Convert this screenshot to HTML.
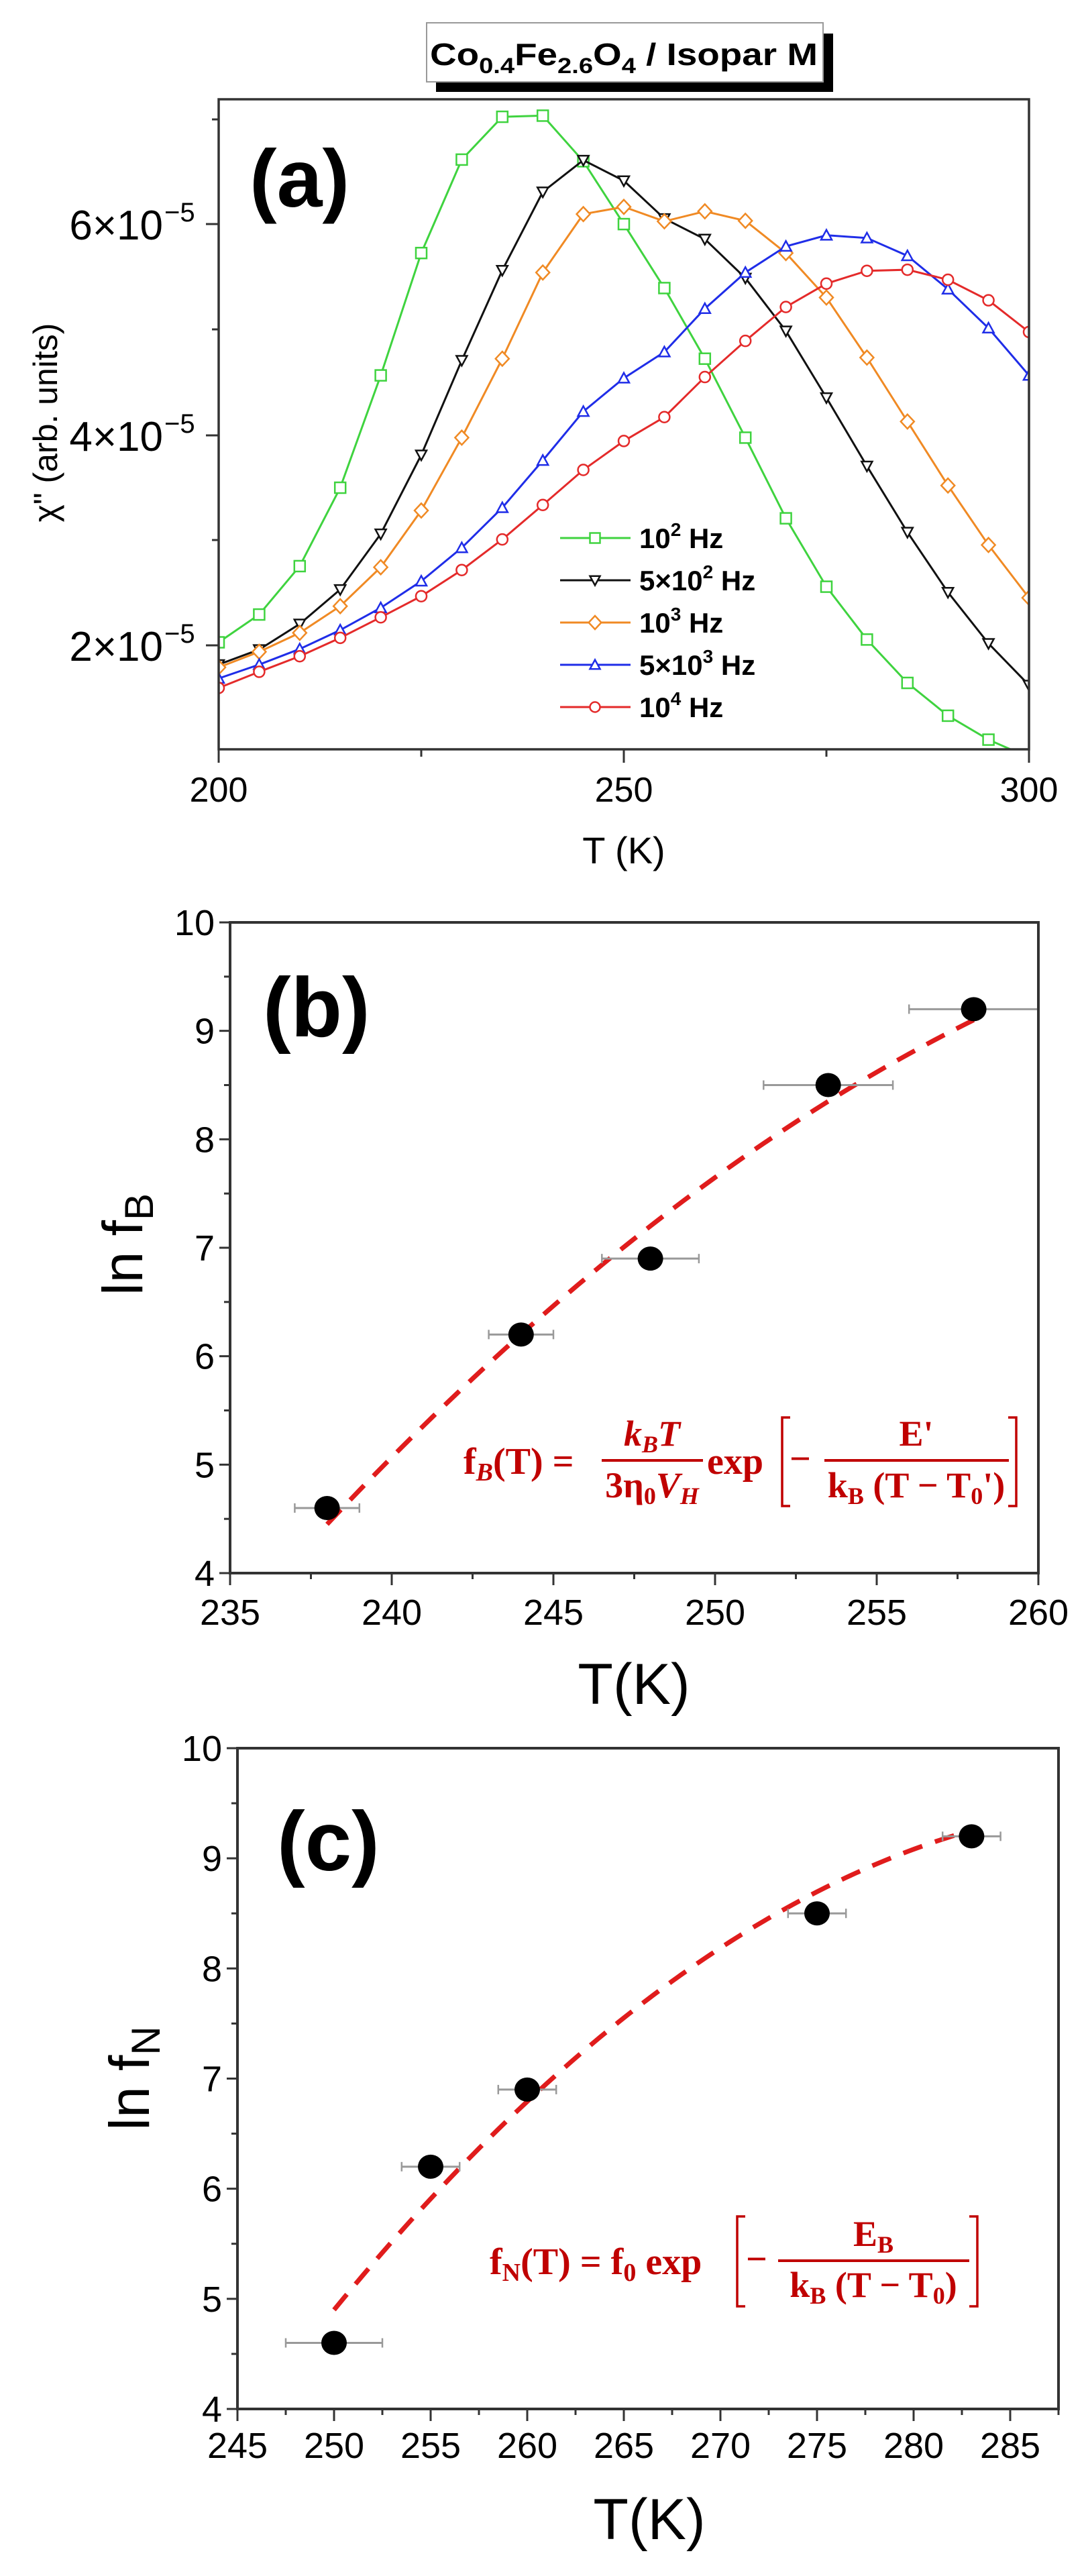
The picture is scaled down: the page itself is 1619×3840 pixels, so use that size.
<!DOCTYPE html>
<html><head><meta charset="utf-8"><style>
html,body{margin:0;padding:0;background:#fff;}
svg{display:block;}
text{font-family:"Liberation Sans",Arial,sans-serif;}
.eq text{font-family:"Liberation Serif","DejaVu Serif",serif;}
</style></head><body>
<svg id="s" width="1619" height="3840" viewBox="0 0 1619 3840" xmlns="http://www.w3.org/2000/svg">
<rect width="1619" height="3840" fill="#fff"/>
<rect x="650" y="50" width="592" height="87" fill="#000"/>
<rect x="636" y="34" width="591" height="88" fill="#fff" stroke="#999" stroke-width="2"/>
<text x="641" y="97" font-size="46" font-weight="bold" textLength="578" lengthAdjust="spacingAndGlyphs">Co<tspan font-size="32" dy="12">0.4</tspan><tspan dy="-12">Fe</tspan><tspan font-size="32" dy="12">2.6</tspan><tspan dy="-12">O</tspan><tspan font-size="32" dy="12">4</tspan><tspan dy="-12"> / Isopar M</tspan></text>
<g id="pa"></g><g id="pb"></g><g id="pc"></g>
</svg>
<script>
var NS="http://www.w3.org/2000/svg";
function el(p,t,a,txt){var e=document.createElementNS(NS,t);for(var k in a)e.setAttribute(k,a[k]);if(txt!=null)e.textContent=txt;p.appendChild(e);return e;}
var A=document.getElementById('pa');
var L=326,R=1534,T=148,B=1117;
function ax(t){return L+(t-200)/100*(R-L);}
var cp=el(A,'clipPath',{id:'ca'});el(cp,'rect',{x:L,y:T,width:R-L,height:B-T});
var series=[
 ['#3fd33f','sq',[1155,1105,1018,877,675,455,287,210,208,290,403,518,645,787,932,1055,1150,1228,1287,1330,1362]],
 ['#111','dt',[1195,1168,1122,1060,960,818,648,486,345,288,325,393,430,500,595,715,838,957,1065,1157,1232]],
 ['#f08a24','di',[1200,1172,1138,1090,1020,918,787,645,490,385,372,398,380,397,455,535,643,758,873,980,1075]],
 ['#1f2de8','ut',[1220,1195,1167,1133,1093,1045,985,913,828,740,680,633,555,490,443,423,428,460,520,590,675]],
 ['#e42a2a','ci',[1237,1208,1180,1147,1110,1072,1025,970,908,845,793,750,678,613,552,510,487,485,503,540,597]]
];
function marker(g,type,x,y,c,s){
 var a={fill:'#fff',stroke:c,'stroke-width':2.5};
 if(type=='sq'){a.x=x-s/2;a.y=y-s/2;a.width=s;a.height=s;el(g,'rect',a);}
 else if(type=='ci'){a.cx=x;a.cy=y;a.r=s/2;el(g,'circle',a);}
 else{var p;if(type=='dt')p=[[x-s/2,y-s/2.4],[x+s/2,y-s/2.4],[x,y+s/2]];
 else if(type=='ut')p=[[x-s/2,y+s/2.4],[x+s/2,y+s/2.4],[x,y-s/2]];
 else p=[[x,y-s/1.5],[x+s/1.6,y],[x,y+s/1.5],[x-s/1.6,y]];
 a.points=p.map(function(q){return q.join(',')}).join(' ');el(g,'polygon',a);}
}
var g=el(A,'g',{'clip-path':'url(#ca)'});
series.forEach(function(s){
 var pts=s[2].map(function(v,i){return [ax(200+5*i),v*0.829];});
 el(g,'polyline',{points:pts.map(function(q){return q.join(',')}).join(' '),fill:'none',stroke:s[0],'stroke-width':3});
 pts.forEach(function(q){marker(g,s[1],q[0],q[1],s[0],16);});
});
el(A,'rect',{x:L,y:T,width:R-L,height:B-T,fill:'none',stroke:'#333','stroke-width':3.5});
[200,250,300].forEach(function(t){el(A,'line',{x1:ax(t),x2:ax(t),y1:B,y2:B+20,stroke:'#333','stroke-width':3});
 el(A,'text',{x:ax(t),y:1195,'font-size':52,'text-anchor':'middle'},t);});
[225,275].forEach(function(t){el(A,'line',{x1:ax(t),x2:ax(t),y1:B,y2:B+11,stroke:'#333','stroke-width':3});});
var yv={6:334,4:649,2:962};
[6,4,2].forEach(function(v){var y=yv[v];el(A,'line',{x1:L-19,x2:L,y1:y,y2:y,stroke:'#333','stroke-width':3});
 el(A,'text',{x:243,y:y+23,'font-size':62,'text-anchor':'end'},v+'×10');
 el(A,'text',{x:245,y:y-4,'font-size':40},'−5');});
[178,491,805].forEach(function(y){el(A,'line',{x1:L-10,x2:L,y1:y,y2:y,stroke:'#333','stroke-width':3});});
el(A,'text',{x:0,y:0,'font-size':50,'text-anchor':'middle',transform:'translate(85,630) rotate(-90)'},'χ" (arb. units)');
el(A,'text',{x:930,y:1287,'font-size':56,'text-anchor':'middle'},'T (K)');
el(A,'text',{x:372,y:308,'font-size':122,'font-weight':'bold'},'(a)');
var labs=[['10','2',' Hz'],['5×10','2',' Hz'],['10','3',' Hz'],['5×10','3',' Hz'],['10','4',' Hz']];
labs.forEach(function(l,i){var y=802+63*i,s=series[i];
 el(A,'line',{x1:835,x2:940,y1:y,y2:y,stroke:s[0],'stroke-width':3});marker(A,s[1],887,y,s[0],15);
 var t=el(A,'text',{x:953,y:y+15,'font-size':42,'font-weight':'bold'});
 el(t,'tspan',{},l[0]);el(t,'tspan',{'font-size':28,dy:-18},l[1]);el(t,'tspan',{dy:18},l[2]);});

function panel(G,o){
 var L=o.L,R=o.R,T=o.T,B=o.B;
 function X(t){return L+(t-o.x0)/(o.x1-o.x0)*(R-L);}
 function Y(v){return B-(v-4)/6*(B-T);}
 var d=[];for(var t=o.f0;t<=o.f1+0.001;t+=0.25){var u=t-o.f0;d.push(X(t)+','+Y(o.fa+o.fb*u+o.fc*u*u));}
 el(G,'path',{d:'M'+d.join(' L'),fill:'none',stroke:'#e01c1c','stroke-width':7,'stroke-dasharray':'30,20'});
 var cp=el(G,'clipPath',{id:o.id});el(cp,'rect',{x:L,y:T-40,width:R-L,height:B-T+40});
 var gg=el(G,'g',{'clip-path':'url(#'+o.id+')'});
 o.pts.forEach(function(p){var y=Y(p[1]);
  el(gg,'line',{x1:X(p[0]-p[2]),x2:X(p[0]+p[2]),y1:y,y2:y,stroke:'#999','stroke-width':3});
  [p[0]-p[2],p[0]+p[2]].forEach(function(e){el(gg,'line',{x1:X(e),x2:X(e),y1:y-7,y2:y+7,stroke:'#999','stroke-width':2.5});});
  el(G,'ellipse',{cx:X(p[0]),cy:y,rx:19,ry:18,fill:'#000'});});
 el(G,'rect',{x:L,y:T,width:R-L,height:B-T,fill:'none',stroke:'#333','stroke-width':4});
 for(var v=4;v<=10;v+=0.5){var y=Y(v),maj=(v%1==0);
  el(G,'line',{x1:L-(maj?16:9),x2:L,y1:y,y2:y,stroke:'#333','stroke-width':3});
  if(maj)el(G,'text',{x:L-23,y:y+19,'font-size':54,'text-anchor':'end'},v);}
 for(var t=o.x0;t<=o.x1+0.01;t+=2.5){var x=X(t),maj=(t%5==0);
  el(G,'line',{x1:x,x2:x,y1:B,y2:B+(maj?18:9),stroke:'#333','stroke-width':3});
  if(maj)el(G,'text',{x:x,y:o.ty,'font-size':54,'text-anchor':'middle'},t);}
 el(G,'text',{x:o.xl[0],y:o.xl[1],'font-size':86,'text-anchor':'middle'},'T(K)');
 var yl=el(G,'text',{x:0,y:0,'font-size':84,'text-anchor':'middle',transform:'translate('+o.yl[0]+','+o.yl[1]+') rotate(-90)'},'ln f');
 el(yl,'tspan',{'font-size':60,dy:16},o.sub);
 el(G,'text',{x:o.lab[0],y:o.lab[1],'font-size':125,'font-weight':'bold'},o.labt);
}
panel(document.getElementById('pb'),{id:'cb',L:343,R:1548,T:1375,B:2345,x0:235,x1:260,ty:2422,xl:[945,2540],yl:[212,1855],sub:'B',lab:[392,1545],labt:'(b)',
 pts:[[238,4.6,1],[244,6.2,1],[248,6.9,1.5],[253.5,8.5,2],[258,9.2,2]],
 f0:238,f1:258,fa:4.45,fb:0.3175,fc:-0.00425});
panel(document.getElementById('pc'),{id:'cc',L:354,R:1578,T:2606,B:3591,x0:245,x1:287.5,ty:3664,xl:[968,3785],yl:[222,3098],sub:'N',lab:[413,2788],labt:'(c)',
 pts:[[250,4.6,2.5],[255,6.2,1.5],[260,6.9,1.5],[275,8.5,1.5],[283,9.2,1.5]],
 f0:250,f1:283,fa:4.9,fb:0.2141,fc:-0.00249});
</script>
<svg class="eq" style="position:absolute;left:0;top:0" width="1619" height="3840" xmlns="http://www.w3.org/2000/svg">
<g fill="#c00000" font-weight="bold">
 <text x="691" y="2197" font-size="56">f<tspan font-style="italic" font-size="38" dy="10">B</tspan><tspan dy="-10">(T) =</tspan></text>
 <text x="972" y="2155" font-size="54" text-anchor="middle" font-style="italic">k<tspan font-size="36" dy="10">B</tspan><tspan dy="-10">T</tspan></text>
 <rect x="897" y="2175" width="151" height="4"/>
 <text x="972" y="2232" font-size="54" text-anchor="middle">3η<tspan font-size="36" dy="10">0</tspan><tspan dy="-10" font-style="italic">V</tspan><tspan font-size="36" dy="10" font-style="italic">H</tspan></text>
 <text x="1054" y="2197" font-size="56">exp</text>
 <text x="1177" y="2193" font-size="56">−</text>
 <text x="1366" y="2155" font-size="54" text-anchor="middle">E'</text>
 <rect x="1229" y="2175" width="275" height="4"/>
 <text x="1366" y="2232" font-size="54" text-anchor="middle">k<tspan font-size="36" dy="10">B</tspan><tspan dy="-10"> (T − T</tspan><tspan font-size="36" dy="10">0</tspan><tspan dy="-10">')</tspan></text>
 <text x="730" y="3390" font-size="56">f<tspan font-size="38" dy="10">N</tspan><tspan dy="-10">(T) = f</tspan><tspan font-size="38" dy="10">0</tspan><tspan dy="-10"> exp</tspan></text>
 <text x="1112" y="3386" font-size="56">−</text>
 <text x="1302" y="3348" font-size="54" text-anchor="middle">E<tspan font-size="36" dy="10">B</tspan></text>
 <rect x="1160" y="3368" width="285" height="4"/>
 <text x="1302" y="3424" font-size="54" text-anchor="middle">k<tspan font-size="36" dy="10">B</tspan><tspan dy="-10"> (T − T</tspan><tspan font-size="36" dy="10">0</tspan><tspan dy="-10">)</tspan></text>
</g>
<g fill="none" stroke="#c00000" stroke-width="3.5">
 <path d="M1178 2113 H1166 V2245 H1178"/><path d="M1503 2113 H1515 V2245 H1503"/>
 <path d="M1111 3304 H1099 V3438 H1111"/><path d="M1445 3304 H1457 V3438 H1445"/>
</g>
</svg>
</body></html>
